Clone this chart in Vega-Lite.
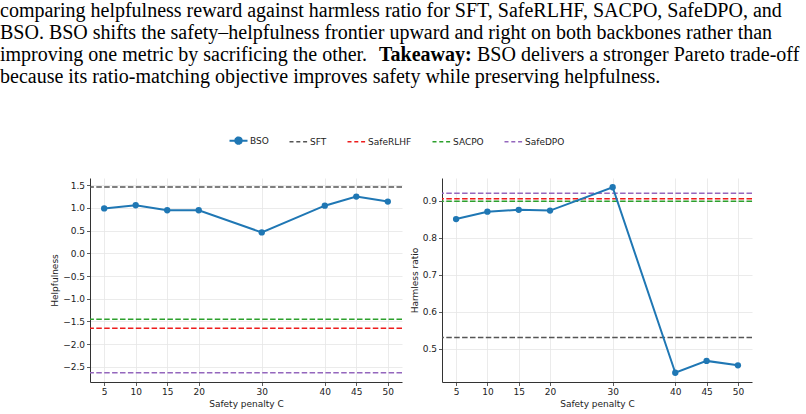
{
  "$schema": "https://vega.github.io/schema/vega-lite/v6.json",
  "padding": 0,
  "background": "white",
  "config": {
    "view": {"stroke": null},
    "font": "DejaVu Sans",
    "axis": {
      "labelFont": "DejaVu Sans",
      "labelFontSize": 9,
      "labelColor": "#222222",
      "labelOverlap": false,
      "labelBound": false,
      "titleFont": "DejaVu Sans",
      "titleFontSize": 9,
      "titleFontWeight": "normal",
      "titleColor": "#222222",
      "domainColor": "#333333",
      "domainWidth": 1,
      "tickColor": "#333333",
      "tickSize": 3.5,
      "tickWidth": 0.8,
      "labelPadding": 2,
      "titlePadding": 3,
      "gridColor": "#e6e6e6",
      "gridWidth": 0.8
    },
    "legend": {
      "orient": "none",
      "legendX": 234,
      "legendY": 136,
      "direction": "horizontal",
      "title": null,
      "labelFont": "DejaVu Sans",
      "labelFontSize": 9,
      "labelColor": "#222222",
      "symbolType": "stroke",
      "symbolSize": 324,
      "symbolStrokeWidth": 1.5,
      "labelOffset": 7,
      "columnPadding": 17
    }
  },
  "datasets": {
    "para": [
      {"line": 1, "part": "a", "text": "comparing helpfulness reward against harmless ratio for SFT, SafeRLHF, SACPO, SafeDPO, and"},
      {"line": 2, "part": "a", "text": "BSO. BSO shifts the safety–helpfulness frontier upward and right on both backbones rather than"},
      {"line": 3, "part": "a", "text": "improving one metric by sacrificing the other."},
      {"line": 3, "part": "b", "text": "Takeaway:"},
      {"line": 3, "part": "c", "text": "BSO delivers a stronger Pareto trade-off"},
      {"line": 4, "part": "a", "text": "because its ratio-matching objective improves safety while preserving helpfulness."}
    ],
    "bso_help": [
      {"C": 5, "value": 0.99},
      {"C": 10, "value": 1.06},
      {"C": 15, "value": 0.95},
      {"C": 20, "value": 0.95},
      {"C": 30, "value": 0.46},
      {"C": 40, "value": 1.05},
      {"C": 45, "value": 1.25},
      {"C": 50, "value": 1.14}
    ],
    "base_help": [
      {"method": "SFT", "value": 1.46},
      {"method": "SafeRLHF", "value": -1.65},
      {"method": "SACPO", "value": -1.45},
      {"method": "SafeDPO", "value": -2.63}
    ],
    "bso_harm": [
      {"C": 5, "value": 0.85},
      {"C": 10, "value": 0.87},
      {"C": 15, "value": 0.875},
      {"C": 20, "value": 0.873},
      {"C": 30, "value": 0.936},
      {"C": 40, "value": 0.435},
      {"C": 45, "value": 0.467},
      {"C": 50, "value": 0.455}
    ],
    "base_harm": [
      {"method": "SFT", "value": 0.53},
      {"method": "SafeRLHF", "value": 0.905},
      {"method": "SACPO", "value": 0.898},
      {"method": "SafeDPO", "value": 0.92}
    ],
    "none": []
  },
  "spacing": 90,
  "vconcat": [
    {
      "width": 806,
      "height": 88,
      "data": {"name": "para"},
      "encoding": {
        "y": {"field": "line", "type": "ordinal", "axis": null, "scale": {"type": "point", "padding": 0.5}},
        "x": {"value": 0},
        "text": {"field": "text"}
      },
      "layer": [
        {
          "transform": [{"filter": "datum.part === 'a'"}],
          "mark": {"type": "text", "font": "Liberation Serif", "fontSize": 20, "align": "left", "baseline": "alphabetic", "dy": 6, "color": "black"}
        },
        {
          "transform": [{"filter": "datum.part === 'b'"}],
          "mark": {"type": "text", "font": "Liberation Serif", "fontSize": 20, "fontWeight": "bold", "align": "left", "baseline": "alphabetic", "dy": 6, "dx": 379, "color": "black"}
        },
        {
          "transform": [{"filter": "datum.part === 'c'"}],
          "mark": {"type": "text", "font": "Liberation Serif", "fontSize": 20, "align": "left", "baseline": "alphabetic", "dy": 6, "dx": 477, "color": "black"}
        }
      ]
    },
    {
      "spacing": 7,
      "hconcat": [
        {
          "width": 43,
          "height": 204,
          "data": {"name": "none"},
          "mark": {"type": "point"},
          "encoding": {}
        },
        {
          "width": 312,
          "height": 204,
          "encoding": {
            "y": {"field": "value", "type": "quantitative", "title": "Helpfulness",
                  "scale": {"domain": [-2.835, 1.66], "nice": false, "zero": false},
                  "axis": {"values": [-2.5, -2, -1.5, -1, -0.5, 0, 0.5, 1, 1.5], "format": ".1f", "grid": true, "labelOverlap": false}}
          },
          "layer": [
            {
              "data": {"name": "base_help"},
              "mark": {"type": "rule", "strokeWidth": 1.5, "strokeDash": [5.5, 2.4]},
              "encoding": {
                "color": {
                  "field": "method", "type": "nominal",
                  "scale": {"domain": ["BSO", "SFT", "SafeRLHF", "SACPO", "SafeDPO"],
                            "range": ["#1f77b4", "#555555", "#ee1c1c", "#2ca02c", "#9467bd"]},
                  "legend": {
                    "encode": {
                      "symbols": {
                        "update": {
                          "shape": {"signal": "datum.value === 'BSO' ? 'M-1,0L1,0M0.36,0A0.36,0.36,0,1,1,-0.36,0A0.36,0.36,0,1,1,0.36,0Z' : 'M-1,0L1,0'"},
                          "strokeDash": {"signal": "datum.value === 'BSO' ? [1, 0] : [4, 2.8]"},
                          "fill": {"signal": "datum.value === 'BSO' ? '#1f77b4' : 'transparent'"},
                          "strokeWidth": {"signal": "datum.value === 'BSO' ? 2 : 1.3"}
                        }
                      }
                    }
                  }
                }
              }
            },
            {
              "data": {"name": "bso_help"},
              "mark": {"type": "line", "strokeWidth": 2, "color": "#1f77b4"},
              "encoding": {
                "x": {"field": "C", "type": "quantitative", "title": "Safety penalty C",
                      "scale": {"domain": [2.75, 52.25], "nice": false, "zero": false},
                      "axis": {"values": [5, 10, 15, 20, 30, 40, 45, 50], "grid": true, "labelOverlap": false}}
              }
            },
            {
              "data": {"name": "bso_help"},
              "mark": {"type": "point", "filled": true, "size": 40, "opacity": 1, "color": "#1f77b4"},
              "encoding": {
                "x": {"field": "C", "type": "quantitative"}
              }
            }
          ]
        },
        {
          "width": 310,
          "height": 204,
          "encoding": {
            "y": {"field": "value", "type": "quantitative", "title": "Harmless ratio",
                  "scale": {"domain": [0.41, 0.961], "nice": false, "zero": false},
                  "axis": {"values": [0.5, 0.6, 0.7, 0.8, 0.9], "format": ".1f", "grid": true, "labelOverlap": false}}
          },
          "layer": [
            {
              "data": {"name": "base_harm"},
              "mark": {"type": "rule", "strokeWidth": 1.5, "strokeDash": [5.5, 2.4]},
              "encoding": {
                "color": {"field": "method", "type": "nominal"}
              }
            },
            {
              "data": {"name": "bso_harm"},
              "mark": {"type": "line", "strokeWidth": 2, "color": "#1f77b4"},
              "encoding": {
                "x": {"field": "C", "type": "quantitative", "title": "Safety penalty C",
                      "scale": {"domain": [2.75, 52.25], "nice": false, "zero": false},
                      "axis": {"values": [5, 10, 15, 20, 30, 40, 45, 50], "grid": true, "labelOverlap": false}}
              }
            },
            {
              "data": {"name": "bso_harm"},
              "mark": {"type": "point", "filled": true, "size": 40, "opacity": 1, "color": "#1f77b4"},
              "encoding": {
                "x": {"field": "C", "type": "quantitative"}
              }
            }
          ]
        }
      ]
    }
  ]
}
